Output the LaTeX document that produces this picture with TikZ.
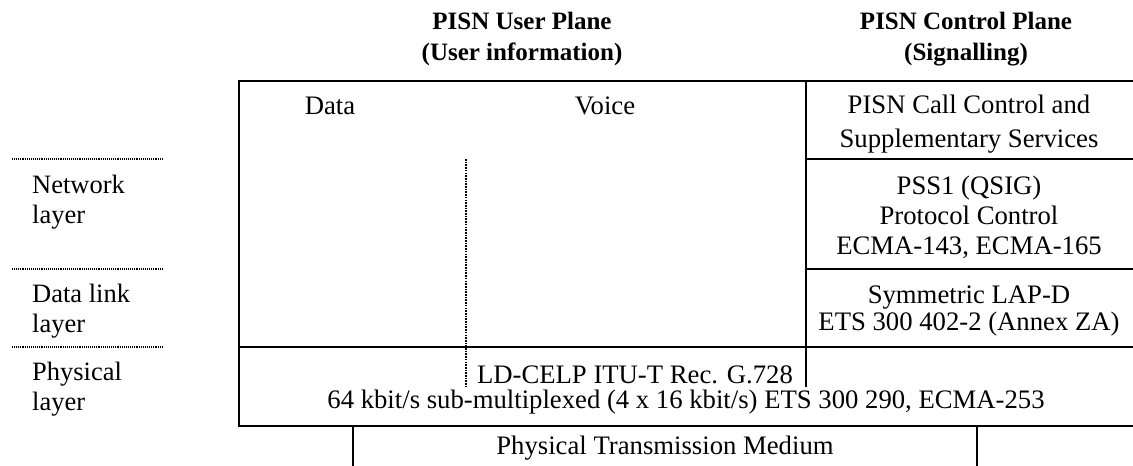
\documentclass[tikz,border=0pt]{standalone}
\usepackage{fontspec}
\setmainfont{Liberation Serif}
\begin{document}
\begin{tikzpicture}[x=1pt,y=-1pt,
  frame/.style={line width=2.6pt},
  vdots/.style={line width=2.4pt,dash pattern=on 1.6pt off 1.1pt},
  hdots/.style={line width=2.2pt,dash pattern=on 1pt off 0.9pt},
  txt/.style={font=\fontsize{26.7}{30}\selectfont,inner sep=0pt,align=center},
  hdr/.style={font=\fontsize{25}{31}\selectfont\bfseries,inner sep=0pt,align=center},
  lbl/.style={font=\fontsize{26.5}{30}\selectfont,inner sep=0pt,align=left,anchor=west}]
\useasboundingbox (0,0) rectangle (1133,466);
% corner coordinates
\coordinate (tl) at (239,81);
\coordinate (tr) at (1133,81);
\coordinate (dtop) at (806,81);
\coordinate (dbot) at (806,387);
\coordinate (r1l) at (806,159);
\coordinate (r1r) at (1133,159);
\coordinate (r2l) at (806,269);
\coordinate (r2r) at (1133,269);
\coordinate (pl) at (239,347);
\coordinate (pr) at (1133,347);
\coordinate (bl) at (239,426);
\coordinate (br) at (1133,426);
\coordinate (m1t) at (353,426);
\coordinate (m1b) at (353,466);
\coordinate (m2t) at (977,426);
\coordinate (m2b) at (977,466);
\coordinate (vt) at (466,159);
\coordinate (vb) at (466,388);
\coordinate (l1a) at (12,159);
\coordinate (l1b) at (163,159);
\coordinate (l2a) at (12,269);
\coordinate (l2b) at (163,269);
\coordinate (l3a) at (12,347);
\coordinate (l3b) at (163,347);
% frame
\draw[frame] (tr) -- (tl) -- (bl) -- (br);
\draw[frame] (pl) -- (pr);
\draw[frame] (dtop) -- (dbot);
\draw[frame] (r1l) -- (r1r);
\draw[frame] (r2l) -- (r2r);
\draw[frame] (m1t) -- (m1b);
\draw[frame] (m2t) -- (m2b);
\draw[vdots] (vt) -- (vb);
\draw[hdots] (l1a) -- (l1b);
\draw[hdots] (l2a) -- (l2b);
\draw[hdots] (l3a) -- (l3b);
% headers
\node[hdr] (uph) at (522,39) {PISN User Plane\\(User information)};
\node[hdr] (cph) at (966,39) {PISN Control Plane\\(Signalling)};
% cells
\node[txt] (data) at (330,106) {Data};
\node[txt] (voice) at (605,106) {Voice};
\node[txt,font=\fontsize{26.7}{34}\selectfont] (cc) at (969,124) {PISN Call Control and\\Supplementary Services};
\node[txt] (pss) at (969,217) {PSS1 (QSIG)\\Protocol Control\\ECMA-143, ECMA-165};
\node[txt,font=\fontsize{26.7}{27}\selectfont] (lapd) at (969,311) {Symmetric LAP-D\\ETS 300 402-2 (Annex ZA)};
\node[txt] (celp) at (635,375) {LD-CELP ITU-T Rec. G.728};
\node[txt] (kbit) at (686,402) {64 kbit/s sub-multiplexed (4 x 16 kbit/s) ETS 300 290, ECMA-253};
\node[txt] (med) at (665,448) {Physical Transmission Medium};
% left labels
\node[lbl] (net) at (32,202) {Network\\layer};
\node[lbl] (dl) at (32,311) {Data link\\layer};
\node[lbl] (phy) at (32,389) {Physical\\layer};
\end{tikzpicture}
\end{document}
